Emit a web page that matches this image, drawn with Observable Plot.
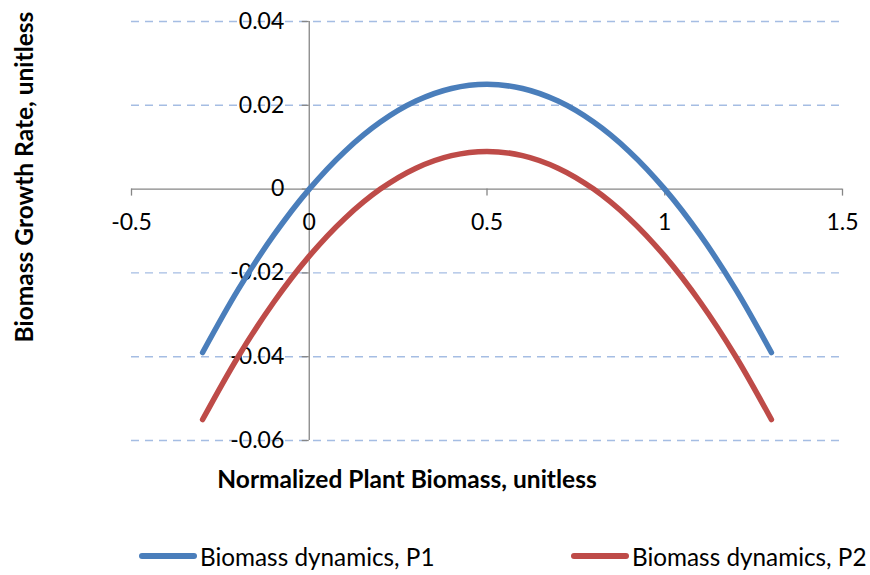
<!DOCTYPE html>
<html><head><meta charset="utf-8">
<script src="https://cdn.jsdelivr.net/npm/d3@7"></script>
<script src="https://cdn.jsdelivr.net/npm/@observablehq/plot@0.6"></script>
<style>
body{margin:0;background:#fff;font-family:Lato,sans-serif;}
#wrap{position:relative;width:870px;height:575px;overflow:hidden;}
#legend{position:relative;width:870px;height:45px;}
.item{position:absolute;top:0;height:52px;display:flex;align-items:center;font-size:24.3px;color:#000;white-space:nowrap;}
.sw{width:58px;height:6px;border-radius:3px;margin-right:3px;}
</style></head><body>
<div id="wrap"><div id="chart"></div><div id="legend"></div></div>
<script>
const biomass = [-0.3,-0.2,-0.1,0,0.1,0.2,0.3,0.4,0.5,0.6,0.7,0.8,0.9,1.0,1.1,1.2,1.3];
const rateP1 = [-0.039,-0.024,-0.011,0,0.009,0.016,0.021,0.024,0.025,0.024,0.021,0.016,0.009,0,-0.011,-0.024,-0.039];
const rateP2 = [-0.055,-0.040,-0.027,-0.016,-0.007,0.000,0.005,0.008,0.009,0.008,0.005,0.000,-0.007,-0.016,-0.027,-0.040,-0.055];
const xTicks = [-0.5,0,0.5,1,1.5];
const yTicks = [-0.06,-0.04,-0.02,0,0.02,0.04];
const xTickLabels = ["-0.5","0","0.5","1","1.5"];
const yTickLabels = ["-0.06","-0.04","-0.02","0","0.02","0.04"];
const seriesNames = ["Biomass dynamics, P1","Biomass dynamics, P2"];
const seriesColors = ["#4a7ebb","#be4b48"];
const xTitle = "Normalized Plant Biomass, unitless";
const yTitle = "Biomass Growth Rate, unitless";

const data = [];
biomass.forEach((x,i)=>{ data.push({x, y: rateP1[i], s: seriesNames[0]}); });
biomass.forEach((x,i)=>{ data.push({x, y: rateP2[i], s: seriesNames[1]}); });

const axisColor = "#868686";
const chart = Plot.plot({
  width: 870, height: 530,
  marginLeft: 131, marginRight: 28, marginTop: 21, marginBottom: 90,
  x: {domain: [-0.5, 1.5], axis: null},
  y: {domain: [-0.06, 0.04], axis: null},
  color: {domain: seriesNames, range: seriesColors},
  style: {fontFamily: "Lato, sans-serif", fontSize: "23px", background: "white", color: "black"},
  marks: [
    Plot.ruleY(yTicks.filter(d => d !== 0), {y: d => d, x1: -0.5, x2: 1.5, stroke: "#a5bde3", strokeWidth: 1.4, strokeDasharray: "8 6"}),
    Plot.ruleY([0], {y: d => d, x1: -0.5, x2: 1.5, stroke: axisColor, strokeWidth: 1.3}),
    Plot.ruleX([0], {x: d => d, y1: -0.06, y2: 0.04, stroke: axisColor, strokeWidth: 1.3}),
    Plot.ruleY(yTicks, {y: d => d, x1: 0, x2: 0, insetLeft: -7, stroke: axisColor, strokeWidth: 1.3}),
    Plot.ruleX(xTicks, {x: d => d, y1: 0, y2: 0, insetBottom: -7, stroke: axisColor, strokeWidth: 1.3}),
    Plot.text(yTicks, {x: 0, y: d => d, text: (d, i) => yTickLabels[i], dx: -25, textAnchor: "end", fill: "black"}),
    Plot.text(xTicks, {x: d => d, y: 0, text: (d, i) => xTickLabels[i], dy: 34, fill: "black"}),
    Plot.line(data, {x: "x", y: "y", stroke: "s", z: "s", strokeWidth: 5.5, curve: "catmull-rom", strokeLinecap: "round"}),
    Plot.text([xTitle], {text: d => d, frameAnchor: "bottom", textAnchor: "middle", dx: -80, dy: 47, fontWeight: "bold", fontSize: 24.5, fill: "black"}),
    Plot.text([yTitle], {text: d => d, frameAnchor: "left", textAnchor: "middle", rotate: -90, dx: -106, dy: -54, fontWeight: "bold", fontSize: 24.5, fill: "black"})
  ]
});
document.getElementById("chart").appendChild(chart);

const legend = document.getElementById("legend");
const legendLeft = [139, 571];
seriesNames.forEach((name, i) => {
  const it = document.createElement("div");
  it.className = "item";
  it.style.left = legendLeft[i] + "px";
  const sw = document.createElement("div");
  sw.className = "sw";
  sw.style.background = seriesColors[i];
  const t = document.createElement("span");
  t.textContent = name;
  it.appendChild(sw); it.appendChild(t);
  legend.appendChild(it);
});
</script>
</body></html>
